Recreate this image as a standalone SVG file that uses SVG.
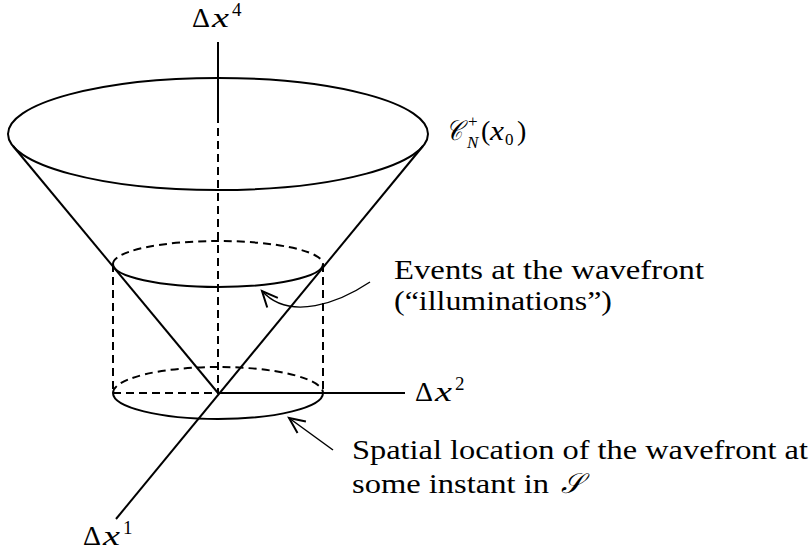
<svg xmlns="http://www.w3.org/2000/svg" width="810" height="552" viewBox="0 0 810 552">
<style>
.s{fill:none;stroke:#000;stroke-width:2}
.d{fill:none;stroke:#000;stroke-width:2;stroke-dasharray:8 5}
.a{fill:none;stroke:#000;stroke-width:1.4}
.t{font-family:"Liberation Serif","DejaVu Serif",serif;font-size:28px;fill:#000}
.m{font-family:"Liberation Serif","DejaVu Serif",serif;font-size:28px;fill:#000;font-style:italic}
.sup{font-family:"Liberation Serif","DejaVu Serif",serif;font-size:19px;fill:#000}
.sub{font-family:"Liberation Serif","DejaVu Serif",serif;font-size:17px;fill:#000}
</style>
<defs>
<marker id="ah" markerUnits="userSpaceOnUse" markerWidth="20" markerHeight="20" viewBox="-12 -7 14 14" refX="0" refY="0" orient="auto">
<path d="M-11,-5 L0,0 L-11,5" fill="none" stroke="#000" stroke-width="1.4"/>
</marker>
</defs>
<rect width="810" height="552" fill="#fff"/>
<g id="cone">
<ellipse class="s" cx="218" cy="134" rx="210" ry="56"/>
<line class="s" x1="13" y1="146" x2="218" y2="393"/>
<line class="s" x1="423" y1="146" x2="116" y2="519"/>
</g>
<g id="axis4">
<line class="s" x1="218" y1="42" x2="218" y2="123"/>
<line class="d" x1="218" y1="128" x2="218" y2="393"/>
</g>
<g id="cylinder-top">
<path class="d" d="M113,264 A105,23 0 0 1 323,264"/>
<path class="s" d="M113,264 A105,23 0 0 0 323,264"/>
</g>
<g id="cylinder-sides">
<line class="d" x1="113" y1="264" x2="113" y2="393"/>
<line class="d" x1="323" y1="264" x2="323" y2="393"/>
</g>
<g id="cylinder-bottom">
<path class="d" d="M113,393 A105,26 0 0 1 323,393"/>
<path class="s" d="M113,393 A105,26 0 0 0 323,393"/>
</g>
<g id="axis2">
<line class="d" x1="113" y1="393" x2="218" y2="393"/>
<line class="s" x1="218" y1="393" x2="405" y2="393"/>
</g>
<g id="connectors">
<path class="a" d="M370,282 C340,302 290,322 262,291" marker-end="url(#ah)"/>
<line class="a" x1="333" y1="450" x2="289" y2="418" marker-end="url(#ah)"/>
</g>
<g id="label-x4">
<text class="t" x="192" y="27" textLength="18" lengthAdjust="spacingAndGlyphs">Δ</text><text class="m" x="212" y="27" textLength="17" lengthAdjust="spacingAndGlyphs">x</text><text class="sup" x="232" y="16">4</text>
</g>
<g id="label-cone">
<text class="m" x="446" y="140" font-size="22" textLength="16" lengthAdjust="spacingAndGlyphs">𝒞</text><text class="sub" x="468" y="127">+</text><text class="sub" font-style="italic" x="467" y="148">N</text><text class="t" x="481" y="140">(</text><text class="m" x="490" y="140" textLength="14" lengthAdjust="spacingAndGlyphs">x</text><text class="sub" x="505" y="145">0</text><text class="t" x="517" y="140">)</text>
</g>
<g id="label-events">
<text class="t" x="394" y="279" textLength="310" lengthAdjust="spacingAndGlyphs">Events at the wavefront</text>
<text class="t" x="394" y="310" textLength="218" lengthAdjust="spacingAndGlyphs">(“illuminations”)</text>
</g>
<g id="label-x2">
<text class="t" x="415" y="401" textLength="18" lengthAdjust="spacingAndGlyphs">Δ</text><text class="m" x="435" y="401" textLength="17" lengthAdjust="spacingAndGlyphs">x</text><text class="sup" x="455" y="390">2</text>
</g>
<g id="label-spatial">
<text class="t" x="352" y="459" textLength="456" lengthAdjust="spacingAndGlyphs">Spatial location of the wavefront at</text>
<text class="t" x="352" y="493" textLength="197" lengthAdjust="spacingAndGlyphs">some instant in</text>
<text class="m" x="561" y="493">𝒮</text>
</g>
<g id="label-x1">
<text class="t" x="83" y="545" textLength="18" lengthAdjust="spacingAndGlyphs">Δ</text><text class="m" x="103" y="545" textLength="17" lengthAdjust="spacingAndGlyphs">x</text><text class="sup" x="123" y="534">1</text>
</g>
</svg>
